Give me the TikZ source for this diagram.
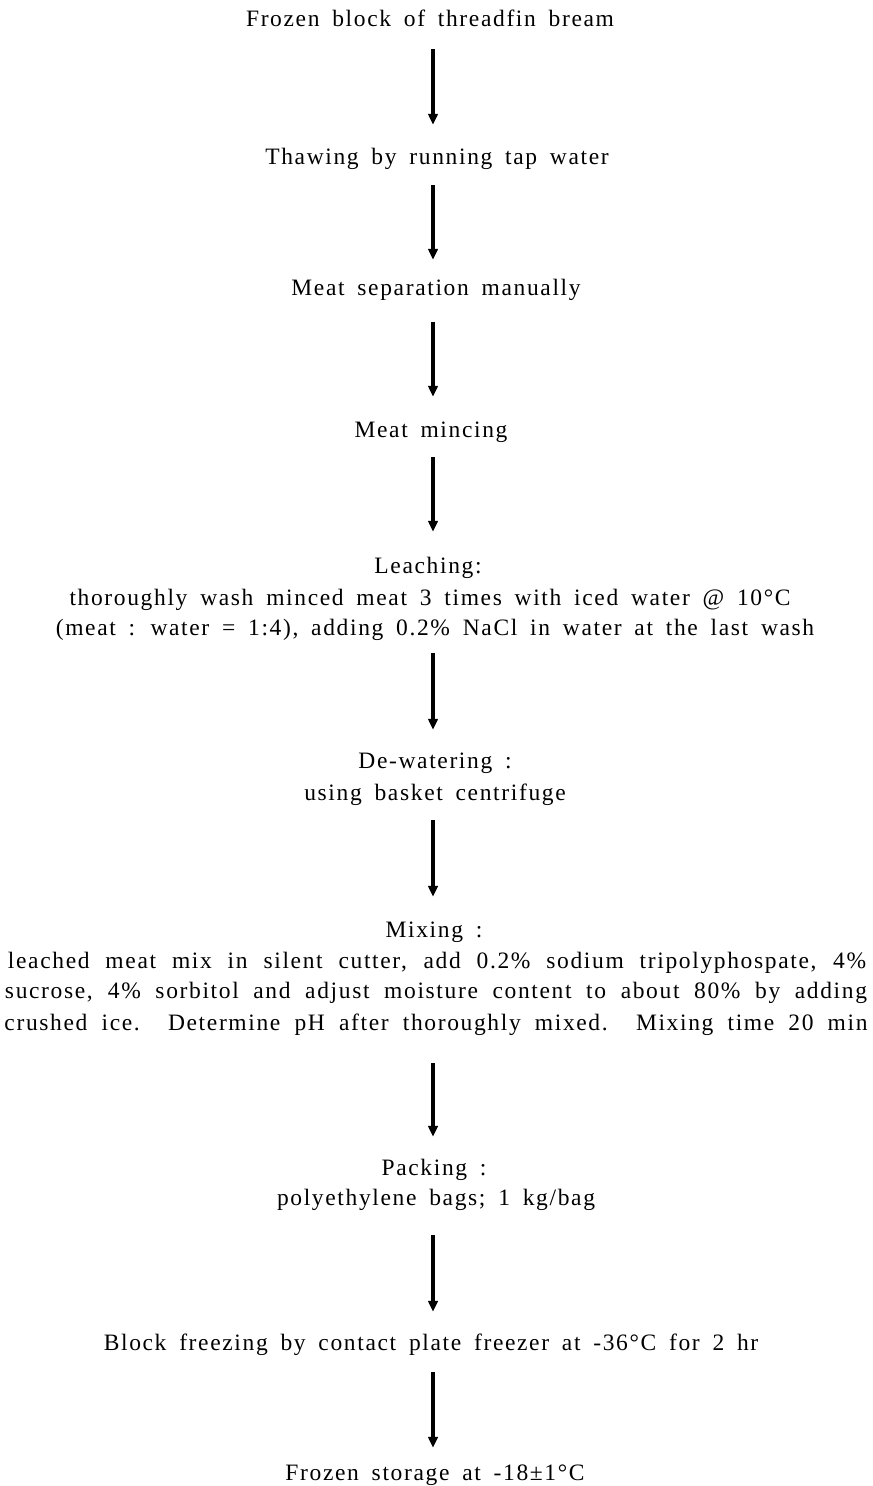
\documentclass[tikz,border=0pt]{standalone}
\usepackage{fontspec}
\setmainfont{Liberation Serif}[LetterSpace=7, WordSpace=1.7]
\usetikzlibrary{arrows.meta}
\tikzset{
  txt/.style={anchor=base, inner sep=0pt, text height=15bp, text depth=5bp,
    font=\fontsize{23.5bp}{31bp}\selectfont},
  flow/.style={line width=3.2bp, -{Triangle[length=11bp,width=9.5bp]}},
}
\begin{document}
\begin{tikzpicture}[x=1bp,y=-1bp]
\useasboundingbox (0,0) rectangle (872,1486);
\coordinate (ax) at (433,0);
\node[txt] (s1) at (430,27) {Frozen block of threadfin bream};
\node[txt] (s2) at (437,165) {Thawing by running tap water};
\node[txt] (s3) at (436,295) {Meat separation manually};
\node[txt] (s4) at (431,437) {Meat mincing};
\node[txt] (s5a) at (428,573) {Leaching:};
\node[txt] (s5b) at (430,605) {thoroughly wash minced meat 3 times with iced water @ 10°C};
\node[txt] (s5c) at (435,635) {(meat : water = 1:4), adding 0.2\% NaCl in water at the last wash};
\node[txt] (s6a) at (435,768) {De-watering :};
\node[txt] (s6b) at (435,800) {using basket centrifuge};
\node[txt] (s7a) at (434,937) {Mixing :};
\node[txt] (s7b) at (437,968) {\makebox[858bp][s]{leached meat mix in silent cutter, add 0.2\% sodium tripolyphospate, 4\%}};
\node[txt] (s7c) at (436,998) {\makebox[862bp][s]{sucrose, 4\% sorbitol and adjust moisture content to about 80\% by adding}};
\node[txt] (s7d) at (436,1030) {\makebox[863bp][s]{crushed ice.\ \ Determine pH after thoroughly mixed.\ \ Mixing time 20 min}};
\node[txt] (s8a) at (434,1175) {Packing :};
\node[txt] (s8b) at (436,1205) {polyethylene bags; 1 kg/bag};
\node[txt] (s9) at (431,1350) {Block freezing by contact plate freezer at -36°C for 2 hr};
\node[txt] (s10) at (435,1480) {Frozen storage at -18±1°C};
\draw[flow, shorten <=17bp, shorten >=25bp] (s1.south -| ax) -- (s2.north -| ax);
\draw[flow, shorten <=15bp, shorten >=20bp] (s2.south -| ax) -- (s3.north -| ax);
\draw[flow, shorten <=22bp, shorten >=25bp] (s3.south -| ax) -- (s4.north -| ax);
\draw[flow, shorten <=15bp, shorten >=26bp] (s4.south -| ax) -- (s5a.north -| ax);
\draw[flow, shorten <=13bp, shorten >=23bp] (s5c.south -| ax) -- (s6a.north -| ax);
\draw[flow, shorten <=15bp, shorten >=25bp] (s6b.south -| ax) -- (s7a.north -| ax);
\draw[flow, shorten <=28bp, shorten >=23bp] (s7d.south -| ax) -- (s8a.north -| ax);
\draw[flow, shorten <=25bp, shorten >=23bp] (s8b.south -| ax) -- (s9.north -| ax);
\draw[flow, shorten <=17bp, shorten >=17bp] (s9.south -| ax) -- (s10.north -| ax);
\end{tikzpicture}
\end{document}
